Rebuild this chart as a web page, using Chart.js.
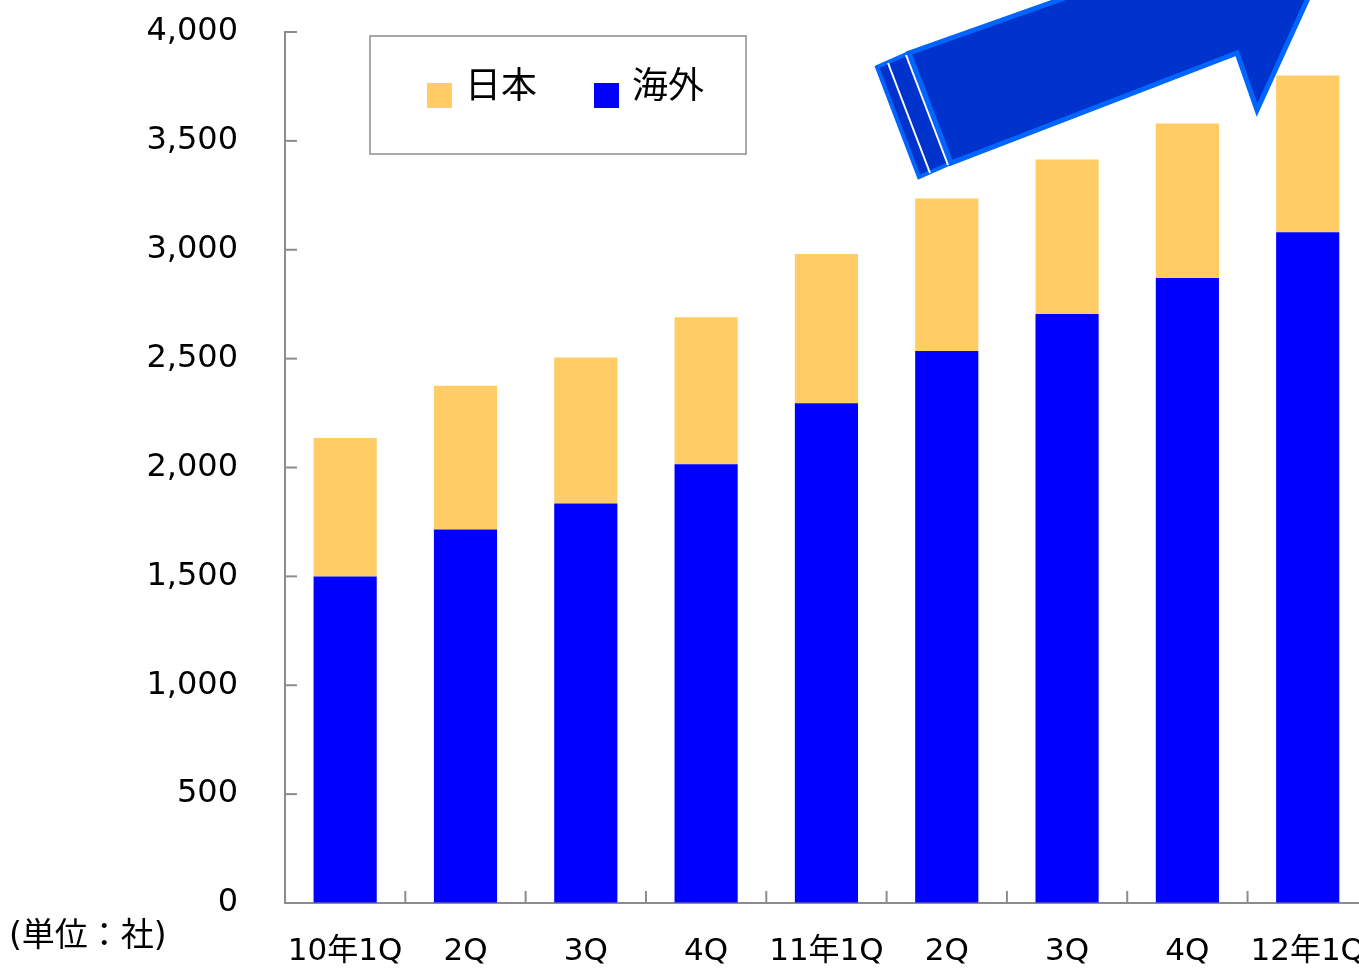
<!DOCTYPE html>
<html>
<head>
<meta charset="utf-8">
<script src="https://cdn.jsdelivr.net/npm/chart.js@4"></script>
<style>
  html, body { margin:0; padding:0; background:#fff; overflow:hidden; }
  #wrap { width:1395px; height:973px; position:relative; }
</style>
</head>
<body>
<div id="wrap"><canvas id="c"></canvas></div>
<script>
// データ（単位：社）
const LABELS = ['10年1Q','2Q','3Q','4Q','11年1Q','2Q','3Q','4Q','12年1Q'];
const OVERSEAS = [1500, 1715, 1835, 2015, 2295, 2535, 2705, 2870, 3080];
const JAPAN = [635, 660, 670, 675, 685, 700, 710, 710, 720];
const Y_MAX = 4000;
const Y_STEP = 500;

const FONT = "'DejaVu Sans', 'Noto Sans CJK JP', sans-serif";
const AXIS_GREY = '#8c8c8c';

function poly(ctx, pts){
  ctx.beginPath();
  pts.forEach((p,i)=> i ? ctx.lineTo(p[0],p[1]) : ctx.moveTo(p[0],p[1]));
  ctx.closePath();
}

// 内向きの目盛り線、凡例の枠、単位ラベル、右上の矢印
const decoPlugin = {
  id: 'deco',
  beforeDatasetsDraw(chart){
    const ctx = chart.ctx, a = chart.chartArea;
    const xs = chart.scales.x, ys = chart.scales.y;
    ctx.save();
    ctx.strokeStyle = AXIS_GREY;
    ctx.lineWidth = 2;
    // y ticks (inside)
    ys.ticks.forEach(t=>{
      const y = ys.getPixelForValue(t.value);
      ctx.beginPath(); ctx.moveTo(a.left, y); ctx.lineTo(a.left+12, y); ctx.stroke();
    });
    // x ticks at category boundaries (inside)
    for(let i=1;i<LABELS.length;i++){
      const x = (xs.getPixelForValue(i-1)+xs.getPixelForValue(i))/2;
      ctx.beginPath(); ctx.moveTo(x, a.bottom); ctx.lineTo(x, a.bottom-12); ctx.stroke();
    }
    ctx.restore();
  },
  afterDraw(chart){
    const ctx = chart.ctx, a = chart.chartArea;
    ctx.save();

    // 単位
    ctx.fillStyle = '#000';
    ctx.font = '33px ' + FONT;
    ctx.textAlign = 'left';
    ctx.textBaseline = 'middle';
    ctx.fillText('(単位：社)', 9, a.bottom + 34);

    // 凡例
    const lx = a.left + 85, ly = a.top + 4, lw = 376, lh = 118;
    ctx.strokeStyle = '#8c8c8c';
    ctx.lineWidth = 1.5;
    ctx.fillStyle = '#fff';
    ctx.fillRect(lx, ly, lw, lh);
    ctx.strokeRect(lx, ly, lw, lh);
    const items = [chart.data.datasets[1], chart.data.datasets[0]];
    const itemX = [lx + 57, lx + 224];
    ctx.font = '36px ' + FONT;
    ctx.textBaseline = 'middle';
    items.forEach((ds, i)=>{
      ctx.fillStyle = ds.backgroundColor;
      ctx.fillRect(itemX[i], ly + 47, 25, 25);
      ctx.fillStyle = '#000';
      ctx.fillText(ds.label, itemX[i] + 38, ly + 53);
    });

    // 矢印（装飾）
    const ox = a.left, oy = a.top;
    const P = (x, y) => [ox + x, oy + y];
    ctx.lineJoin = 'miter';
    ctx.strokeStyle = '#0066ff';
    ctx.fillStyle = '#0033cc';
    // 尾
    ctx.lineWidth = 4;
    poly(ctx, [P(592,35), P(624,21), P(666,131), P(634,145)]);
    ctx.fill(); ctx.stroke();
    // 本体
    ctx.lineWidth = 5;
    poly(ctx, [P(624,21), P(915,-82), P(1045,-82), P(972,78), P(952,21), P(666,131)]);
    ctx.fill(); ctx.stroke();
    // 白い区切り線
    ctx.strokeStyle = '#ffffff';
    ctx.lineWidth = 2;
    [[P(603,31), P(645,141)], [P(621,23), P(663,133)]].forEach(l=>{
      ctx.beginPath(); ctx.moveTo(l[0][0], l[0][1]); ctx.lineTo(l[1][0], l[1][1]); ctx.stroke();
    });
    ctx.restore();
  }
};

new Chart(document.getElementById('c'), {
  type: 'bar',
  data: {
    labels: LABELS,
    datasets: [
      { label: '海外', data: OVERSEAS, backgroundColor: '#0000ff', borderWidth: 0 },
      { label: '日本', data: JAPAN, backgroundColor: '#ffcc66', borderWidth: 0 }
    ]
  },
  options: {
    responsive: true,
    maintainAspectRatio: false,
    animation: false,
    devicePixelRatio: 1,
    layout: { padding: { top: 32, left: 0, right: 0, bottom: 0 } },
    datasets: { bar: { barPercentage: 0.525, categoryPercentage: 1.0 } },
    plugins: { legend: { display: false }, tooltip: { enabled: false } },
    scales: {
      x: {
        stacked: true,
        grid: { display: false, drawTicks: false },
        border: { display: true, color: AXIS_GREY, width: 2 },
        ticks: { color: '#000', font: { family: FONT, size: 31 }, padding: 30, maxRotation: 0, autoSkip: false },
        afterFit: s => { s.height = 70; }
      },
      y: {
        stacked: true,
        min: 0, max: Y_MAX,
        // 目盛り線は透明にして、ラベルと軸の間隔だけに使う
        grid: { display: true, drawOnChartArea: false, drawTicks: true, tickLength: 47, color: 'rgba(0,0,0,0)' },
        border: { display: true, color: AXIS_GREY, width: 2 },
        ticks: {
          stepSize: Y_STEP, color: '#000', padding: 0,
          font: { family: FONT, size: 32 },
          callback: v => v.toLocaleString('en-US')
        },
        afterFit: s => { s.width = 285; }
      }
    }
  },
  plugins: [decoPlugin]
});
</script>
</body>
</html>
